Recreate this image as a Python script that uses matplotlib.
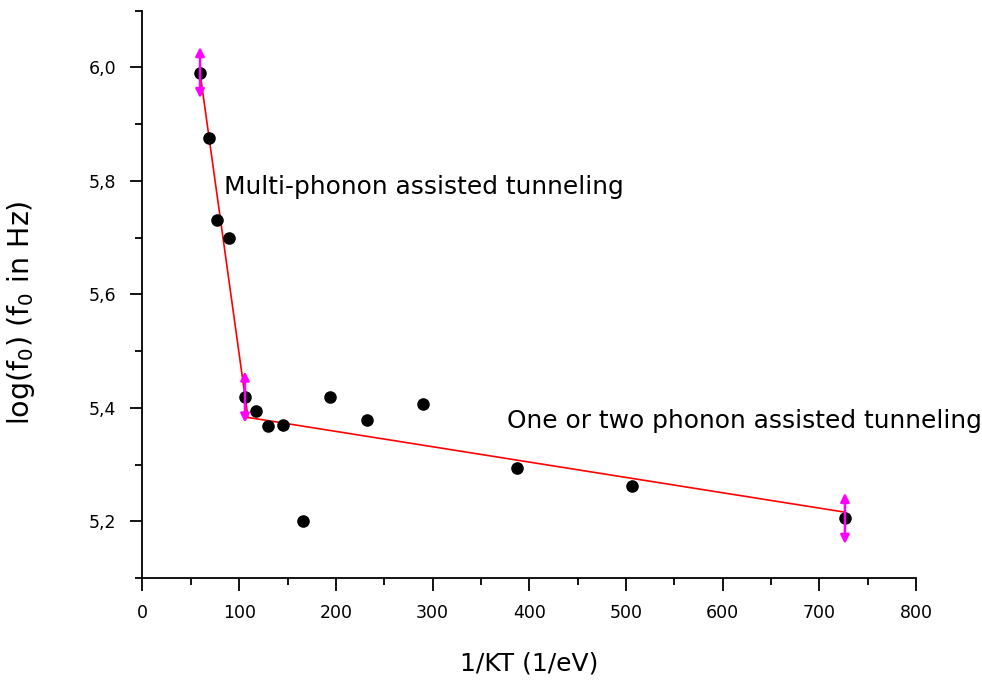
import numpy as np
import matplotlib
matplotlib.use("Agg")
import matplotlib.pyplot as plt
from matplotlib.ticker import MultipleLocator, FuncFormatter

# inverse thermal energy 1/kT (1/eV) and log10 of the attempt frequency
inv_kt = [59.5, 68.8, 76.7, 89.8, 106.0, 117.1, 129.5, 145.6, 166.3,
          193.9, 232.4, 290.4, 387.0, 506.0, 726.5]
log_f0 = [5.991, 5.875, 5.731, 5.699, 5.419, 5.394, 5.368, 5.369, 5.201,
          5.419, 5.378, 5.407, 5.294, 5.262, 5.205]

# two straight-line regimes (end points of each fitted segment)
fit_multi_x = [59.5, 109.1]
fit_multi_y = [5.991, 5.383]
fit_single_x = [109.1, 726.5]
fit_single_y = [5.383, 5.216]

# vertical cursor markers placed on selected points
cursor_x = [59.5, 106.0, 726.5]
cursor_y = [5.991, 5.419, 5.205]
cursor_half = 0.045

plt.rcParams["font.family"] = ["DejaVu Sans"]

fig = plt.figure(figsize=(9.82, 6.87), dpi=100)
ax = fig.add_axes([0.1451, 0.1587, 0.7877, 0.8257])

ax.plot(fit_multi_x, fit_multi_y, color="red", lw=1.2, zorder=2)
ax.plot(fit_single_x, fit_single_y, color="red", lw=1.2, zorder=2)
ax.scatter(inv_kt, log_f0, s=82, color="black", zorder=3, linewidths=0)

for cx, cy in zip(cursor_x, cursor_y):
    ax.annotate("", xy=(cx, cy + cursor_half), xytext=(cx, cy - cursor_half),
                arrowprops=dict(arrowstyle="<|-|>", color="magenta", lw=1.8,
                                mutation_scale=13, shrinkA=0, shrinkB=0),
                zorder=4)

ax.text(84, 5.79, "Multi-phonon assisted tunneling", fontsize=17.9,
        va="center", ha="left")
ax.text(377, 5.376, "One or two phonon assisted tunneling", fontsize=17.9,
        va="center", ha="left", clip_on=False)

ax.set_xlim(0, 800)
ax.set_ylim(5.1, 6.1)
ax.xaxis.set_major_locator(MultipleLocator(100))
ax.xaxis.set_minor_locator(MultipleLocator(50))
ax.yaxis.set_major_locator(MultipleLocator(0.2))
ax.yaxis.set_minor_locator(MultipleLocator(0.1))
ax.yaxis.set_major_formatter(FuncFormatter(lambda v, p: ("%.1f" % v).replace(".", ",")))

ax.tick_params(which="major", direction="out", length=9, width=1.3,
               labelsize=12.5, pad=10)
ax.tick_params(which="minor", direction="out", length=5, width=1.3)
for side in ["top", "right"]:
    ax.spines[side].set_visible(False)
for side in ["left", "bottom"]:
    ax.spines[side].set_linewidth(1.3)

ax.set_xlabel("1/KT (1/eV)", fontsize=18, labelpad=21)
ax.set_ylabel("log(f$_0$) (f$_0$ in Hz)", fontsize=20.5)
ax.yaxis.set_label_coords(-0.136, 0.467)

fig.savefig("out.png", dpi=100)
